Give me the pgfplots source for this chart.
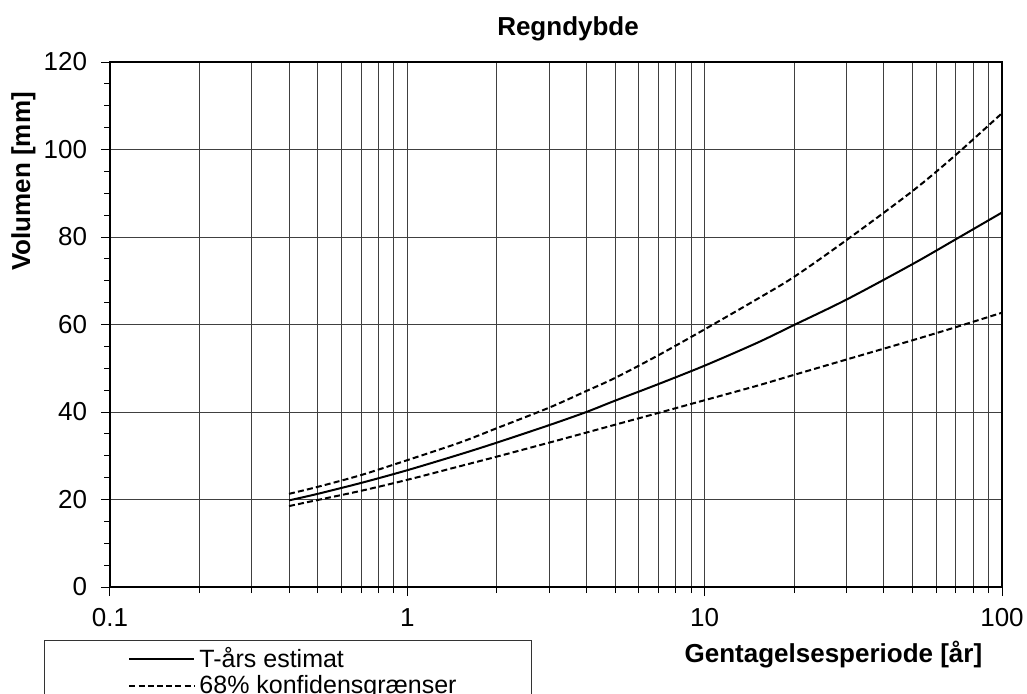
\documentclass[border=0pt]{standalone}
\usepackage{fontspec}
\setmainfont{Liberation Sans}
\usepackage{pgfplots}
\pgfplotsset{compat=1.18}
\begin{document}
\begin{tikzpicture}
\path[use as bounding box] (-55pt,-53pt) rectangle (458.5pt,293.5pt);
\begin{axis}[
  at={(0pt,0pt)}, anchor=south west,
  scale only axis, width=446pt, height=262.5pt,
  xmode=log, xmin=0.1, xmax=100, ymin=0, ymax=120,
  xtick={0.1,1,10,100}, xticklabels={0.1,1,10,100},
  ytick={0,20,40,60,80,100,120}, minor y tick num=3,
  tick pos=left, tick align=outside,
  major tick length=4.5pt, minor tick length=3pt,
  xmajorgrids, xminorgrids, ymajorgrids,
  grid style={line width=0.5pt, draw=black!75},
  minor grid style={line width=0.5pt, draw=black!75},
  axis line style={line width=0.6pt, black},
  tick style={black, line width=0.5pt},
  tick label style={font=\fontsize{13}{15}\selectfont},
  /pgf/number format/assume math mode=true,
  xticklabel style={yshift=-2.7pt},
  yticklabel style={xshift=-3.5pt},
  label style={font=\bfseries\fontsize{13}{15}\selectfont},
  xlabel={Gentagelsesperiode [år]},
  xlabel style={at={(axis description cs:0.811,0)}, anchor=base, yshift=-37.5pt},
  ylabel={Volumen [mm]},
  ylabel style={at={(axis description cs:-0.097,0.7724)}, anchor=center, rotate=0},
  title={Regndybde},
  title style={at={(axis description cs:0.5135,1)}, anchor=base, yshift=7.25pt, font=\bfseries\fontsize{13}{15}\selectfont},
  legend style={at={(axis description cs:-0.074,-0.101)}, anchor=north west,
    draw=black!80, line width=0.5pt, fill=white,
    font=\fontsize{12.5}{14}\selectfont,
    inner xsep=37.5pt, inner ysep=3.5pt, row sep=2.5pt, column sep=2pt,
    nodes={inner sep=0pt}},
  legend cell align=left,
  legend image code/.code={\path (0pt,0pt); \draw[#1] (4.5pt,0pt) -- (37pt,0pt);},
]
\addplot[black, line width=1pt, smooth] coordinates {
(0.4,19.8) (0.5,21.3) (0.7,23.8) (1,26.7) (1.5,30.3) (2,33.0) (3,37.0) (4,40.0) (5,42.6) (7,46.4) (10,50.6) (15,55.8) (20,59.9) (30,65.7) (50,73.8) (70,79.5) (100,85.6)};
\addlegendentry{T-års estimat}
\addplot[black, line width=1pt, smooth, dash pattern=on 3pt off 1.6pt] coordinates {
(0.4,21.3) (0.5,22.9) (0.7,25.6) (1,29.0) (1.5,33.0) (2,36.3) (3,41.0) (4,44.8) (5,47.8) (7,53.0) (10,58.9) (15,65.8) (20,70.9) (30,79.3) (50,90.5) (70,98.8) (100,108.3)};
\addlegendentry{68\% konfidensgrænser}
\addplot[black, line width=1pt, smooth, dash pattern=on 3pt off 1.6pt, forget plot] coordinates {
(0.4,18.5) (0.5,19.9) (0.7,22.0) (1,24.5) (1.5,27.6) (2,29.8) (3,33.0) (4,35.3) (5,37.1) (7,39.8) (10,42.7) (15,46.0) (20,48.5) (30,52.0) (50,56.4) (70,59.4) (100,62.7)};
\end{axis}
\end{tikzpicture}
\end{document}
